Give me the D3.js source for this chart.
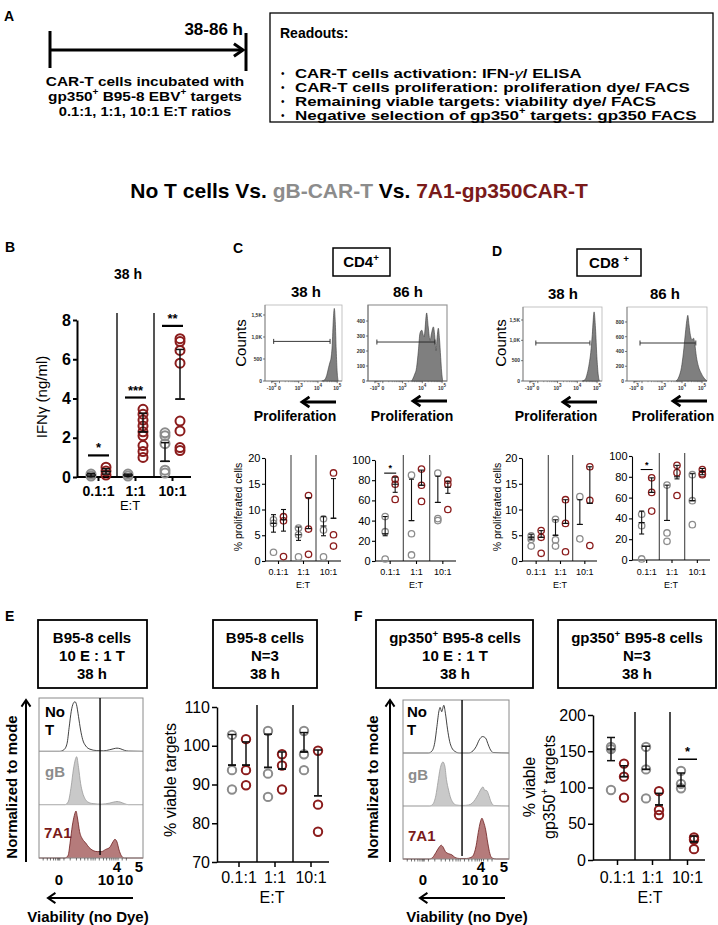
<!DOCTYPE html>
<html><head><meta charset="utf-8">
<script src="https://cdn.jsdelivr.net/npm/d3@7"></script>
<style>
body{margin:0;background:#fff;}
svg{display:block;font-family:"Liberation Sans",Arial,Helvetica,sans-serif;}
</style></head><body>
<svg id="fig" width="718" height="925"></svg>
<script>
// ---------------- DATA ----------------
const ratios = ["0.1:1", "1:1", "10:1"];
const readouts = ["CAR-T cells activation: IFN-", "CAR-T cells proliferation: proliferation dye/ FACS",
  "Remaining viable targets: viability dye/ FACS", "Negative selection of gp350"];

// Panel B: IFN-gamma (ng/ml), 38 h
const ifnTicks = [0, 2, 4, 6, 8];
const ifnGray = [[0.05, 0.15], [0.05, 0.15], [2.25, 2.1, 1.7, 0.35, 0.2]];
const ifnRed = [[0.1, 0.3, 0.5], [1.0, 1.3, 1.6, 2.1, 2.3, 2.6, 2.9, 3.2, 3.45], [1.35, 1.5, 2.35, 2.85, 5.8, 6.45, 6.9, 7.05]];
const ifnGrayMean = [0.1, 0.1, 0.8], ifnGrayLo = [0.02, 0.05, 0.8], ifnGrayHi = [0.18, 0.15, 1.75];
const ifnRedMean = [0.28, 2.3, 3.97], ifnRedLo = [0.15, 2.3, 3.97], ifnRedHi = [0.42, 3.25, 6.5];
const ifnSig = [1.1, 4.05, 7.7], ifnSigLabels = ["*", "***", "**"];

// Panel C: CD4+ % proliferated cells
const pctSmallTicks = [0, 5, 10, 15, 20], pctBigTicks = [0, 20, 40, 60, 80, 100];
const cd4h38Gray = [[8.0, 7.3, 1.7], [6.4, 5.1, 0.8], [8.2, 6.0, 0.8]];
const cd4h38Red = [[8.6, 7.8, 0.85], [12.7, 6.2, 1.3], [17.1, 5.1, 2.9]];
const cd4h38GrayMean = [7.3, 5.1, 6.8], cd4h38GrayLo = [5.6, 4.0, 4.9], cd4h38GrayHi = [9.0, 6.6, 8.6];
const cd4h38RedMean = [8.0, 6.3, 8.3], cd4h38RedLo = [5.8, 6.3, 8.3], cd4h38RedHi = [10.0, 12.3, 16.0];
const cd4h86Gray = [[44, 29, 2], [85, 27, 6], [87, 42, 40]];
const cd4h86Red = [[81, 76, 61], [91, 75, 59], [80, 76, 51]];
const cd4h86GrayMean = [27, 40, 58], cd4h86GrayLo = [25, 40, 58], cd4h86GrayHi = [44, 81, 84];
const cd4h86RedMean = [76, 75, 73], cd4h86RedLo = [68, 75, 67], cd4h86RedHi = [83, 90, 79];
const cd4h86Sig = [87];

// Panel D: CD8+ % proliferated cells
const cd8h38Gray = [[4.9, 4.2, 2.9], [8.1, 4.1, 2.9], [12.5, 4.3]];
const cd8h38Red = [[5.9, 4.6, 1.5], [11.9, 7.3, 1.8], [18.3, 11.8, 3.0]];
const cd8h38GrayMean = [4.6, 5.0, 7.1], cd8h38GrayLo = [4.1, 5.0, 7.1], cd8h38GrayHi = [5.2, 8.0, 11.9];
const cd8h38RedMean = [4.6, 7.3, 11.2], cd8h38RedLo = [4.6, 7.3, 11.2], cd8h38RedHi = [5.9, 11.9, 18.3];
const cd8h86Gray = [[44, 33, 1], [72, 26, 18], [82, 57, 34]];
const cd8h86Red = [[79, 65, 47], [91, 84, 62], [87, 83, 82]];
const cd8h86GrayMean = [36, 38, 57], cd8h86GrayLo = [25, 38, 57], cd8h86GrayHi = [47, 72, 83];
const cd8h86RedMean = [65, 80, 85], cd8h86RedLo = [65, 78, 82], cd8h86RedHi = [79, 91, 88];
const cd8h86Sig = [87];

// Panel E: % viable B95-8 targets
const viaTicks = [70, 80, 90, 100, 110];
const viaGray = [[102.8, 93.7, 88.7], [103.8, 92.8, 86.8], [103.8, 97.8, 93.7]];
const viaRed = [[101.7, 93.7, 89.8], [97.8, 94.9, 88.7], [98.7, 84.8, 77.8]];
const viaGrayMean = [95, 94.4, 98.4], viaGrayHi = [102.9, 103, 103.4];
const viaRedMean = [95, 94, 87.1], viaRedHi = [101, 98.4, 98.9];

// Panel F: % viable gp350+ targets
const gpTicks = [0, 50, 100, 150, 200];
const gpGray = [[156, 153, 96.6], [156, 125, 85], [123, 105, 99]];
const gpRed = [[133, 115, 86], [95, 69, 62], [31, 28, 15]];
const gpGrayMean = [153, 125, 102], gpGrayLo = [137, 125, 102], gpGrayHi = [169, 157, 120];
const gpRedMean = [115, 76, 25], gpRedLo = [115, 76, 25], gpRedHi = [130, 92, 33];
const gpSig = [139];

// FACS proliferation histograms: [logicle position, counts]
const cd4h38Hist = [[2.2,0],[2.35,30],[2.45,120],[2.55,300],[2.62,420],[2.68,520],[2.74,800],[2.8,1400],[2.85,1650],[2.9,1350],[2.95,700],[3.0,200],[3.05,0]];
const cd4h86Hist = [[1.46,0],[1.6,40],[1.71,90],[1.8,200],[1.88,318],[1.97,339],[2.09,294],[2.22,454],[2.3,360],[2.39,271],[2.47,320],[2.56,361],[2.63,300],[2.69,203],[2.75,290],[2.81,352],[2.87,280],[2.93,158],[2.98,60],[3.03,0]];
const cd8h38Hist = [[2.25,0],[2.4,40],[2.5,180],[2.6,420],[2.68,700],[2.76,1150],[2.85,1700],[2.92,1300],[2.99,600],[3.06,150],[3.12,0]];
const cd8h86Hist = [[1.7,0],[1.85,60],[1.97,180],[2.07,380],[2.17,650],[2.24,820],[2.29,890],[2.35,760],[2.42,620],[2.5,560],[2.58,580],[2.64,500],[2.72,330],[2.82,200],[2.95,110],[3.1,40],[3.25,0]];
const cd4h38Ticks = [0, 500, 1000, 1500], cd4h38TickLabels = ["0", "500", "1,0K", "1,5K"];
const cd4h86Ticks = [0, 100, 200, 300, 400], cd4h86TickLabels = ["0", "100", "200", "300", "400"];
const cd8h38Ticks = [0, 500, 1000, 1500], cd8h38TickLabels = ["0", "500", "1,0K", "1,5K"];
const cd8h86Ticks = [0, 200, 400, 600, 800], cd8h86TickLabels = ["0", "200", "400", "600", "800"];
const cd4h38Gate = [-0.3, 2.63, 900], cd4h86Gate = [-0.3, 2.64, 260], cd8h38Gate = [-0.1, 2.64, 935], cd8h86Gate = [-0.1, 2.69, 515];

// Viability histograms: [channel 0-100, fraction of mode]
const eNoT = [[0,0],[20,0],[24,0.03],[27,0.15],[29,0.45],[31,0.75],[33,0.9],[34.6,0.93],[36,0.88],[38,0.65],[40,0.4],[42,0.22],[45,0.1],[49,0.04],[55,0.015],[62,0.01],[68,0.03],[72,0.05],[75,0.06],[78,0.05],[82,0.02],[86,0.005],[100,0]];
const eGB = [[0,0],[25,0],[28,0.05],[31,0.35],[33,0.65],[35,0.85],[36.2,0.9],[38,0.7],[40,0.4],[42,0.22],[44,0.12],[47,0.05],[52,0.02],[60,0.01],[68,0.03],[72,0.05],[75,0.06],[78,0.05],[82,0.02],[86,0],[100,0]];
const e7A1 = [[0,0],[25,0],[28,0.05],[30,0.3],[32,0.6],[34,0.8],[35.6,0.88],[37,0.75],[39,0.5],[42,0.35],[45,0.28],[48,0.2],[52,0.14],[56,0.12],[60,0.12],[64,0.16],[68,0.2],[71,0.3],[73,0.35],[75,0.3],[77,0.15],[79,0.05],[82,0],[100,0]];
const fNoT = [[0,0],[24,0],[27,0.03],[30,0.2],[32,0.5],[34,0.8],[35,0.86],[36.5,0.78],[38.5,0.9],[40,0.75],[42,0.45],[44,0.22],[46,0.1],[49,0.03],[53,0],[62,0],[66,0.04],[69,0.12],[72,0.25],[75,0.31],[78,0.28],[80,0.18],[82,0.08],[85,0.01],[100,0]];
const fGB = [[0,0],[25,0],[28,0.03],[31,0.2],[33,0.45],[35,0.7],[37.7,0.83],[39.5,0.75],[41,0.5],[43,0.3],[45,0.15],[47,0.07],[50,0.02],[56,0.01],[62,0.02],[65,0.05],[68,0.12],[71,0.22],[73,0.3],[75.5,0.36],[77,0.3],[79,0.29],[81,0.2],[83,0.08],[86,0.01],[100,0]];
const f7A1 = [[0,0],[25,0],[28,0.03],[31,0.12],[34,0.22],[36,0.26],[38,0.22],[40,0.14],[43,0.1],[46,0.08],[49,0.03],[53,0.01],[60,0.01],[64,0.03],[66,0.06],[69,0.25],[71,0.5],[73,0.7],[74.5,0.77],[76,0.7],[78,0.55],[80,0.3],[82,0.1],[84,0.02],[88,0],[100,0]];
const eGate = 58.7, fGate = 55.7;

// ---------------- HELPERS ----------------
const svg = d3.select("#fig");
const GRAY = "#8c8c8c", RED = "#8b1c1c", DRED = "#7a1a1a";

function rich(x, y, parts, o = {}) {
  const fs = o.fs || 14;
  const t = svg.append("text").attr("x", x).attr("y", y)
    .attr("font-size", fs).attr("font-weight", o.fw || "bold")
    .attr("text-anchor", o.anchor || "start").attr("fill", o.fill || "#000");
  if (o.rot) t.attr("transform", `rotate(${o.rot},${x},${y})`);
  let shifted = false;
  parts.forEach(p => {
    if (typeof p === "string") p = {t: p};
    const ts = t.append("tspan").text(p.t);
    if (p.fill) ts.attr("fill", p.fill);
    if (p.it) ts.attr("font-style", "italic").attr("font-weight", "normal");
    if (p.sup) { ts.attr("font-size", fs * 0.65).attr("dy", -fs * 0.42); shifted = true; }
    else if (shifted) { ts.attr("dy", fs * 0.42); shifted = false; }
  });
  if (o.stretch) {
    const L = t.node().getComputedTextLength();
    t.attr("textLength", L * o.stretch).attr("lengthAdjust", "spacingAndGlyphs");
  }
  return t;
}
function txt(x, y, s, o = {}) { return rich(x, y, [s], o); }
function line(x1, y1, x2, y2, o = {}) {
  return svg.append("line").attr("x1", x1).attr("y1", y1).attr("x2", x2).attr("y2", y2)
    .attr("stroke", o.c || "#000").attr("stroke-width", o.w || 1).attr("stroke-linecap", o.cap || "butt");
}
function arrow(x1, y1, x2, y2, w, h) {
  line(x1, y1, x2, y2, {w: w});
  const a = Math.atan2(y2 - y1, x2 - x1);
  const p = (ang) => [x2 - h * Math.cos(a + ang), y2 - h * Math.sin(a + ang)];
  svg.append("path").attr("d", d3.line()([p(0.6), [x2, y2], p(-0.6)]))
    .attr("fill", "none").attr("stroke", "#000").attr("stroke-width", w).attr("stroke-linejoin", "miter");
}
function box(x, y, w, h, sw) {
  svg.append("rect").attr("x", x).attr("y", y).attr("width", w).attr("height", h)
    .attr("fill", "none").attr("stroke", "#000").attr("stroke-width", sw || 1.5);
}

function dotPlot(c) {
  const y = d3.scaleLinear().domain(c.domain).range([c.yBot, c.yTop]);
  const x = d3.scaleBand().domain(ratios).range([c.xStart, c.xEnd]);
  const bw = x.bandwidth();
  const g = svg.append("g");
  ratios.slice(1).forEach(r => g.append("line").attr("x1", x(r)).attr("x2", x(r))
    .attr("y1", c.sepTop).attr("y2", c.yBot).attr("stroke", c.sepC || "#444").attr("stroke-width", c.sepW || 1.3));
  const ay = g.append("g").attr("transform", `translate(${c.x0},0)`)
    .call(d3.axisLeft(y).tickValues(c.ticks).tickSize(c.tl).tickSizeOuter(0).tickPadding(c.tp || 2).tickFormat(d3.format("d")));
  ay.select(".domain").attr("stroke-width", c.aw);
  ay.selectAll(".tick line").attr("stroke-width", c.aw);
  ay.selectAll(".tick text").attr("font-size", c.tfs).attr("font-weight", c.tfw || "normal")
    .attr("font-family", "Liberation Sans, Arial, sans-serif").attr("fill", "#000");
  g.append("line").attr("x1", c.x0).attr("x2", c.xEnd).attr("y1", c.yBot).attr("y2", c.yBot)
    .attr("stroke", "#000").attr("stroke-width", c.aw);
  ratios.forEach(r => {
    const cx = x(r) + bw / 2;
    g.append("line").attr("x1", cx).attr("x2", cx).attr("y1", c.yBot).attr("y2", c.yBot + c.tl)
      .attr("stroke", "#000").attr("stroke-width", c.aw);
    g.append("text").attr("x", cx).attr("y", c.xly).attr("text-anchor", "middle")
      .attr("font-size", c.xfs).attr("font-weight", c.xfw || "normal").text(r);
  });
  const gx = (i, s) => x(ratios[i]) + bw / 2 + s * c.off;
  [[c.gray, GRAY, -1], [c.red, RED, 1]].forEach(([vals, col, s]) => {
    vals.forEach((arr, i) => arr.forEach(v => g.append("circle").attr("cx", gx(i, s)).attr("cy", y(v))
      .attr("r", c.r).attr("fill", "none").attr("stroke", col).attr("stroke-width", c.sw)));
  });
  [[c.gMean, c.gLo || c.gMean, c.gHi, -1], [c.rMean, c.rLo || c.rMean, c.rHi, 1]].forEach(([m, lo, hi, s]) => {
    m.forEach((mv, i) => {
      const cx = gx(i, s);
      g.append("line").attr("x1", cx).attr("x2", cx).attr("y1", y(lo[i])).attr("y2", y(hi[i])).attr("stroke", "#111").attr("stroke-width", c.ew);
      [lo[i], hi[i]].forEach(v => g.append("line").attr("x1", cx - c.cap / 2).attr("x2", cx + c.cap / 2)
        .attr("y1", y(v)).attr("y2", y(v)).attr("stroke", "#111").attr("stroke-width", c.ew));
      g.append("line").attr("x1", cx - c.mw / 2).attr("x2", cx + c.mw / 2).attr("y1", y(mv)).attr("y2", y(mv))
        .attr("stroke", "#111").attr("stroke-width", c.ew);
    });
  });
  (c.sig || []).forEach(([i, v, lab]) => {
    const x1 = gx(i, -1) - c.sigPad, x2 = gx(i, 1) + c.sigPad;
    g.append("line").attr("x1", x1).attr("x2", x2).attr("y1", y(v)).attr("y2", y(v)).attr("stroke", "#000").attr("stroke-width", c.sigW);
    g.append("text").attr("x", (x1 + x2) / 2).attr("y", y(v) - c.sigDy).attr("text-anchor", "middle")
      .attr("font-size", c.sigFs).attr("font-weight", "bold").text(lab);
  });
  return {x, y};
}

function facsHist(c) {
  const x = d3.scaleLinear().domain([-0.75, 3.25]).range([c.x0, c.x1]);
  const y = d3.scaleLinear().domain([0, c.max]).range([c.yBot, c.yTop]);
  const g = svg.append("g");
  g.append("rect").attr("x", c.x0).attr("y", c.yTop).attr("width", c.x1 - c.x0).attr("height", c.yBot - c.yTop)
    .attr("fill", "none").attr("stroke", c.topC || "#b5b5b5").attr("stroke-width", c.topW || 0.8);
  g.append("path").datum(c.data).attr("d", d3.area().x(d => x(d[0])).y0(c.yBot).y1(d => y(d[1])).curve(d3.curveMonotoneX))
    .attr("fill", "#7f7f7f").attr("stroke", "#3a3a3a").attr("stroke-width", 0.6);
  g.append("line").attr("x1", c.x0).attr("x2", c.x0).attr("y1", c.yTop).attr("y2", c.yBot).attr("stroke", "#666").attr("stroke-width", 0.7);
  g.append("line").attr("x1", c.x0).attr("x2", c.x1).attr("y1", c.yBot).attr("y2", c.yBot).attr("stroke", "#666").attr("stroke-width", 0.7);
  c.ticks.forEach((t, i) => {
    g.append("line").attr("x1", c.x0 - 2).attr("x2", c.x0).attr("y1", y(t)).attr("y2", y(t)).attr("stroke", "#444").attr("stroke-width", 0.7);
    g.append("text").attr("x", c.x0 - 3).attr("y", y(t) + 1.8).attr("text-anchor", "end").attr("font-size", 5)
      .attr("font-weight", "bold").attr("fill", "#333").text(c.tickLabels[i]);
  });
  const minors = [];
  for (let k = 2; k <= 9; k++) { minors.push(Math.log10(k)); minors.push(1 + Math.log10(k)); minors.push(2 + Math.log10(k)); minors.push(-Math.log10(k) * 0.4); }
  minors.forEach(m => g.append("line").attr("x1", x(m)).attr("x2", x(m)).attr("y1", c.yBot).attr("y2", c.yBot + 1.2).attr("stroke", "#555").attr("stroke-width", 0.5));
  [[-0.4, "-10", "3"], [0, "0", ""], [1, "10", "3"], [2, "10", "4"], [3, "10", "5"]].forEach(([p, b, e]) => {
    g.append("line").attr("x1", x(p)).attr("x2", x(p)).attr("y1", c.yBot).attr("y2", c.yBot + 2.2).attr("stroke", "#444").attr("stroke-width", 0.7);
    const t = g.append("text").attr("x", x(p)).attr("y", c.yBot + 9).attr("text-anchor", "middle").attr("font-size", 5).attr("font-weight", "bold").attr("fill", "#333");
    t.append("tspan").text(b);
    if (e) t.append("tspan").attr("dy", -3).attr("font-size", 4.5).text(e);
  });
  const [ga, gb, gy] = c.gate;
  g.append("line").attr("x1", x(ga)).attr("x2", x(gb)).attr("y1", y(gy)).attr("y2", y(gy)).attr("stroke", "#222").attr("stroke-width", 0.9);
  [ga, gb].forEach(v => g.append("line").attr("x1", x(v)).attr("x2", x(v)).attr("y1", y(gy) - 2.5).attr("y2", y(gy) + 2.5).attr("stroke", "#222").attr("stroke-width", 0.9));
}

function stackHist(c) {
  const x = d3.scaleLinear().domain([0, 100]).range([c.x0, c.x1]);
  const rowH = (c.yBot - c.yTop) / 3;
  const g = svg.append("g");
  const styles = [["#ffffff", "#111", 0.8], ["#c9c9c9", "#9a9a9a", 0.8], ["#b57b7b", "#6e1f1f", 0.8]];
  c.rows.forEach((data, i) => {
    const yb = c.yTop + rowH * (i + 1);
    const y = d3.scaleLinear().domain([0, 1]).range([yb, yb - rowH]);
    g.append("path").datum(data).attr("d", d3.area().x(d => x(d[0])).y0(yb).y1(d => y(d[1])).curve(d3.curveMonotoneX))
      .attr("fill", styles[i][0]).attr("stroke", "none");
    g.append("path").datum(data).attr("d", d3.line().x(d => x(d[0])).y(d => y(d[1])).curve(d3.curveMonotoneX))
      .attr("fill", "none").attr("stroke", styles[i][1]).attr("stroke-width", styles[i][2]);
    if (i < 2) g.append("line").attr("x1", c.x0).attr("x2", c.x1).attr("y1", yb).attr("y2", yb).attr("stroke", "#bdbdbd").attr("stroke-width", 1);
  });
  g.append("rect").attr("x", c.x0).attr("y", c.yTop).attr("width", c.x1 - c.x0).attr("height", c.yBot - c.yTop)
    .attr("fill", "none").attr("stroke", "#8a8a8a").attr("stroke-width", 1);
  g.append("line").attr("x1", x(c.gate)).attr("x2", x(c.gate)).attr("y1", c.yTop).attr("y2", c.yBot - 3).attr("stroke", "#000").attr("stroke-width", 1.4);
  const mt = [4, 8, 11, 14, 16, 18, 19, 20, 24, 30, 36, 40, 44, 47, 50, 52, 54, 58, 62, 65, 68, 70, 72, 74, 76, 80, 84];
  mt.forEach(m => g.append("line").attr("x1", x(m)).attr("x2", x(m)).attr("y1", c.yBot).attr("y2", c.yBot + 2.5).attr("stroke", "#333").attr("stroke-width", 0.7));
}

// ---------------- PANEL A ----------------
txt(4, 21, "A", {fs: 14});
txt(243, 35, "38-86 h", {fs: 17, anchor: "end"});
line(50, 31, 50, 68, {w: 3});
line(246, 33, 246, 71, {w: 3});
arrow(50, 50, 243, 50, 3, 11);
txt(145, 86, "CAR-T cells incubated with", {fs: 13.5, anchor: "middle", stretch: 1.14});
rich(145, 101, ["gp350", {t: "+", sup: true}, " B95-8 EBV", {t: "+", sup: true}, " targets"], {fs: 13.5, anchor: "middle", stretch: 1.14});
txt(145, 116, "0.1:1, 1:1, 10:1 E:T ratios", {fs: 13.5, anchor: "middle", stretch: 1.09});
box(270, 13, 443, 109, 1.3);
txt(280, 38, "Readouts:", {fs: 14});
const bulletY = [78, 92, 106, 120];
bulletY.forEach(by => txt(281, by - 1, "•", {fs: 10, fw: "normal"}));
rich(295, bulletY[0], [readouts[0], {t: "γ", it: true}, "/ ELISA"], {fs: 13.5, stretch: 1.24});
txt(295, bulletY[1], readouts[1], {fs: 13.5, stretch: 1.25});
txt(295, bulletY[2], readouts[2], {fs: 13.5, stretch: 1.25});
rich(295, bulletY[3], [readouts[3], {t: "+", sup: true}, " targets: gp350 FACS"], {fs: 13.5, stretch: 1.26});

// Title
rich(359, 198, ["No T cells Vs. ", {t: "gB-CAR-T", fill: GRAY}, " Vs. ", {t: "7A1-gp350CAR-T", fill: DRED}], {fs: 21, anchor: "middle"});

// ---------------- PANEL B ----------------
txt(5, 252, "B", {fs: 14});
txt(128, 279, "38 h", {fs: 14, anchor: "middle"});
dotPlot({x0: 77, xStart: 80, xEnd: 191, yTop: 320, yBot: 477, domain: [0, 8], ticks: ifnTicks, tl: 4, tp: 2, aw: 2,
  tfs: 16, tfw: "bold", xly: 496, xfs: 14, xfw: "bold", sepTop: 313, sepC: "#555", sepW: 2, off: 7.5, r: 4.5, sw: 2,
  gray: ifnGray, red: ifnRed, gMean: ifnGrayMean, gLo: ifnGrayLo, gHi: ifnGrayHi, rMean: ifnRedMean, rLo: ifnRedLo, rHi: ifnRedHi,
  ew: 1.5, cap: 8, mw: 10, sig: ifnSig.map((v, i) => [i, v, ifnSigLabels[i]]), sigPad: 3, sigW: 2.2, sigDy: 3, sigFs: 13});
txt(47, 397, "IFNγ (ng/ml)", {fs: 15, fw: "normal", anchor: "middle", rot: -90});
txt(130, 510, "E:T", {fs: 13, fw: "normal", anchor: "middle"});

// ---------------- PANEL C ----------------
txt(233, 253, "C", {fs: 14});
box(333, 248, 57, 28, 1.5);
rich(361, 267, ["CD4", {t: "+", sup: true}], {fs: 15, anchor: "middle"});
txt(306, 297, "38 h", {fs: 15, anchor: "middle"});
txt(408, 297, "86 h", {fs: 15, anchor: "middle"});
facsHist({x0: 265, x1: 342, yTop: 305, yBot: 381, max: 1727, data: cd4h38Hist, ticks: cd4h38Ticks, tickLabels: cd4h38TickLabels, gate: cd4h38Gate});
facsHist({x0: 368, x1: 447, yTop: 305, yBot: 381, max: 507, data: cd4h86Hist, ticks: cd4h86Ticks, tickLabels: cd4h86TickLabels, gate: cd4h86Gate, topC: "#999", topW: 1.2});
txt(246, 343, "Counts", {fs: 15, fw: "normal", anchor: "middle", rot: -90});
arrow(336, 402, 302, 402, 2.8, 9);
arrow(447, 401, 413, 401, 2.8, 9);
txt(295, 421, "Proliferation", {fs: 14, anchor: "middle"});
txt(412, 421, "Proliferation", {fs: 14, anchor: "middle"});
const smallPlot = {tl: 3, tp: 1.5, aw: 1.1, tfs: 11, xly: 575, xfs: 9, sepC: "#555", sepW: 1.2, off: 5, r: 3.2, sw: 1.3,
  ew: 1.1, cap: 5, mw: 6, sigPad: 1, sigW: 1.1, sigDy: 2, sigFs: 9};
dotPlot(Object.assign({}, smallPlot, {x0: 265, xStart: 266, xEnd: 341, yTop: 458, yBot: 561, domain: [0, 20], ticks: pctSmallTicks, sepTop: 455,
  gray: cd4h38Gray, red: cd4h38Red, gMean: cd4h38GrayMean, gLo: cd4h38GrayLo, gHi: cd4h38GrayHi, rMean: cd4h38RedMean, rLo: cd4h38RedLo, rHi: cd4h38RedHi}));
dotPlot(Object.assign({}, smallPlot, {x0: 375, xStart: 377, xEnd: 456, yTop: 460, yBot: 561, domain: [0, 100], ticks: pctBigTicks, sepTop: 455,
  gray: cd4h86Gray, red: cd4h86Red, gMean: cd4h86GrayMean, gLo: cd4h86GrayLo, gHi: cd4h86GrayHi, rMean: cd4h86RedMean, rLo: cd4h86RedLo, rHi: cd4h86RedHi,
  sig: [[0, cd4h86Sig[0], "*"]]}));
txt(242, 507, "% proliferated cells", {fs: 10.5, fw: "normal", anchor: "middle", rot: -90});
txt(303, 588, "E:T", {fs: 9, fw: "normal", anchor: "middle"});
txt(416, 588, "E:T", {fs: 9, fw: "normal", anchor: "middle"});

// ---------------- PANEL D ----------------
txt(492, 256, "D", {fs: 14});
box(577, 249, 64, 27, 1.5);
rich(609, 268, ["CD8 ", {t: "+", sup: true}], {fs: 15, anchor: "middle"});
txt(563, 299, "38 h", {fs: 15, anchor: "middle"});
txt(665, 299, "86 h", {fs: 15, anchor: "middle"});
facsHist({x0: 523, x1: 602, yTop: 307, yBot: 381, max: 1820, data: cd8h38Hist, ticks: cd8h38Ticks, tickLabels: cd8h38TickLabels, gate: cd8h38Gate});
facsHist({x0: 627, x1: 707, yTop: 307, yBot: 381, max: 1003, data: cd8h86Hist, ticks: cd8h86Ticks, tickLabels: cd8h86TickLabels, gate: cd8h86Gate});
txt(506, 343, "Counts", {fs: 15, fw: "normal", anchor: "middle", rot: -90});
arrow(597, 402, 563, 402, 2.8, 9);
arrow(707, 401, 673, 401, 2.8, 9);
txt(556, 421, "Proliferation", {fs: 14, anchor: "middle"});
txt(673, 421, "Proliferation", {fs: 14, anchor: "middle"});
dotPlot(Object.assign({}, smallPlot, {x0: 522, xStart: 524, xEnd: 597, yTop: 458, yBot: 561, domain: [0, 20], ticks: pctSmallTicks, sepTop: 455,
  gray: cd8h38Gray, red: cd8h38Red, gMean: cd8h38GrayMean, gLo: cd8h38GrayLo, gHi: cd8h38GrayHi, rMean: cd8h38RedMean, rLo: cd8h38RedLo, rHi: cd8h38RedHi}));
dotPlot(Object.assign({}, smallPlot, {x0: 632, xStart: 634, xEnd: 710, yTop: 456, yBot: 560, domain: [0, 100], ticks: pctBigTicks, sepTop: 453,
  gray: cd8h86Gray, red: cd8h86Red, gMean: cd8h86GrayMean, gLo: cd8h86GrayLo, gHi: cd8h86GrayHi, rMean: cd8h86RedMean, rLo: cd8h86RedLo, rHi: cd8h86RedHi,
  sig: [[0, cd8h86Sig[0], "*"]]}));
txt(501, 507, "% proliferated cells", {fs: 10.5, fw: "normal", anchor: "middle", rot: -90});
txt(560, 588, "E:T", {fs: 9, fw: "normal", anchor: "middle"});
txt(671, 588, "E:T", {fs: 9, fw: "normal", anchor: "middle"});

// ---------------- PANEL E ----------------
txt(5, 621, "E", {fs: 14});
box(38, 620, 109, 68, 1.8);
txt(92, 643, "B95-8 cells", {fs: 15, anchor: "middle"});
txt(92, 661, "10 E : 1 T", {fs: 15, anchor: "middle"});
txt(92, 679, "38 h", {fs: 15, anchor: "middle"});
box(213, 620, 104, 68, 1.8);
txt(265, 643, "B95-8 cells", {fs: 15, anchor: "middle"});
txt(265, 661, "N=3", {fs: 15, anchor: "middle"});
txt(265, 679, "38 h", {fs: 15, anchor: "middle"});
stackHist({x0: 39, x1: 143, yTop: 698, yBot: 858, rows: [eNoT, eGB, e7A1], gate: eGate});
txt(45, 717, "No", {fs: 15});
txt(45, 735, "T", {fs: 15});
txt(45, 777, "gB", {fs: 15, fill: GRAY});
txt(44, 838, "7A1", {fs: 15, fill: DRED});
arrow(26, 862, 26, 700, 2, 8);
txt(17, 787, "Normalized to mode", {fs: 15, anchor: "middle", rot: -90});
txt(59, 885, "0", {fs: 15, anchor: "middle"});
txt(106, 885, "10", {fs: 15, anchor: "middle"});
txt(125, 885, "10", {fs: 15, anchor: "middle"});
txt(117, 872, "4", {fs: 15, anchor: "middle"});
txt(139, 872, "5", {fs: 15, anchor: "middle"});
arrow(133, 898, 48, 898, 2, 9);
txt(88, 922, "Viability (no Dye)", {fs: 15, anchor: "middle"});
dotPlot({x0: 217, xStart: 221, xEnd: 329, yTop: 707, yBot: 862, domain: [70, 110], ticks: viaTicks, tl: 5, tp: 2, aw: 1.5,
  tfs: 16, xly: 883, xfs: 16, sepTop: 705, sepC: "#111", sepW: 1.5, off: 7, r: 4.2, sw: 2,
  gray: viaGray, red: viaRed, gMean: viaGrayMean, gHi: viaGrayHi, rMean: viaRedMean, rHi: viaRedHi, ew: 1.5, cap: 8, mw: 8});
txt(176, 780, "% viable targets", {fs: 16, fw: "normal", anchor: "middle", rot: -90});
txt(272, 903, "E:T", {fs: 16, fw: "normal", anchor: "middle"});

// ---------------- PANEL F ----------------
txt(354, 621, "F", {fs: 14});
box(376, 620, 157, 68, 1.8);
rich(455, 643, ["gp350", {t: "+", sup: true}, " B95-8 cells"], {fs: 15, anchor: "middle"});
txt(455, 661, "10 E : 1 T", {fs: 15, anchor: "middle"});
txt(455, 679, "38 h", {fs: 15, anchor: "middle"});
box(558, 620, 158, 68, 1.8);
rich(637, 643, ["gp350", {t: "+", sup: true}, " B95-8 cells"], {fs: 15, anchor: "middle"});
txt(637, 661, "N=3", {fs: 15, anchor: "middle"});
txt(637, 679, "38 h", {fs: 15, anchor: "middle"});
stackHist({x0: 403, x1: 509, yTop: 700, yBot: 859, rows: [fNoT, fGB, f7A1], gate: fGate});
txt(407, 717, "No", {fs: 15});
txt(407, 735, "T", {fs: 15});
txt(408, 780, "gB", {fs: 15, fill: GRAY});
txt(408, 841, "7A1", {fs: 15, fill: DRED});
arrow(390, 862, 390, 700, 2, 8);
txt(378, 787, "Normalized to mode", {fs: 15, anchor: "middle", rot: -90});
txt(423, 885, "0", {fs: 15, anchor: "middle"});
txt(470, 885, "10", {fs: 15, anchor: "middle"});
txt(490, 885, "10", {fs: 15, anchor: "middle"});
txt(481, 872, "4", {fs: 15, anchor: "middle"});
txt(504, 872, "5", {fs: 15, anchor: "middle"});
arrow(505, 898, 420, 898, 2, 9);
txt(467, 922, "Viability (no Dye)", {fs: 15, anchor: "middle"});
dotPlot({x0: 593, xStart: 600, xEnd: 705, yTop: 715, yBot: 860, domain: [0, 200], ticks: gpTicks, tl: 5, tp: 2, aw: 1.5,
  tfs: 16, xly: 883, xfs: 16, sepTop: 712, sepC: "#111", sepW: 1.5, off: 6.5, r: 4.2, sw: 2,
  gray: gpGray, red: gpRed, gMean: gpGrayMean, gLo: gpGrayLo, gHi: gpGrayHi, rMean: gpRedMean, rLo: gpRedLo, rHi: gpRedHi,
  ew: 1.5, cap: 8, mw: 8, sig: [[2, gpSig[0], "*"]], sigPad: 3, sigW: 1.5, sigDy: 3, sigFs: 13});
txt(535, 787, "% viable", {fs: 16, fw: "normal", anchor: "middle", rot: -90});
rich(555, 787, ["gp350", {t: "+", sup: true}, " targets"], {fs: 16, fw: "normal", anchor: "middle", rot: -90});
txt(650, 903, "E:T", {fs: 16, fw: "normal", anchor: "middle"});
</script></body></html>
